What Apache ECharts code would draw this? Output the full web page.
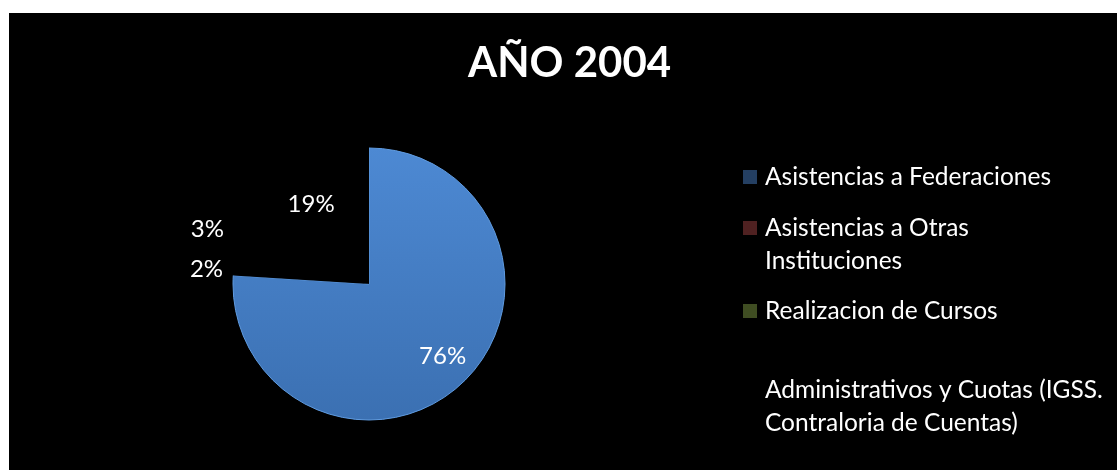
<!DOCTYPE html>
<html>
<head>
<meta charset="utf-8">
<title>AÑO 2004</title>
<script src="https://cdn.jsdelivr.net/npm/echarts@6/dist/echarts.min.js"></script>
<style>
  body { margin: 0; background: #fff; }
  #main { position: absolute; left: 9px; top: 13px; width: 1108px; height: 457px; }
</style>
</head>
<body>
<div id="main"></div>
<script>
// datos del grafico
const titulo = 'AÑO 2004'
const categorias = [
  'Asistencias a Federaciones',
  'Asistencias a Otras Instituciones',
  'Realizacion de Cursos',
  'Administrativos y Cuotas (IGSS. Contraloria de Cuentas)'
]
const porcentajes = [76, 2, 3, 19]

// estilos (no son datos)
const coloresLeyenda = ['#243f62', '#4f2121', '#3f4d22', '#000000']
const textoLeyenda = [
  'Asistencias a Federaciones',
  '\nAsistencias a Otras\nInstituciones',
  'Realizacion de Cursos',
  'Administrativos y Cuotas (IGSS.\nContraloria de Cuentas)'
]
const topLeyenda = [147.5, 165.5, 281.5, 360.5]
const posEtiqueta = ['inside', 'outside', 'outside', 'inside']
const ajusteEtiqueta = [[25, 21], [0, 2.5], [-3.5, -17], [-18, -21]]

const azul = {
  type: 'linear', x: 0, y: 0, x2: 0, y2: 1,
  colorStops: [{ offset: 0, color: '#4d89d3' }, { offset: 1, color: '#3b70b2' }]
}

const datos = categorias.map((nombre, i) => ({
  name: nombre,
  value: porcentajes[i],
  itemStyle: i === 0
    ? { color: azul, borderColor: '#5f9be0', borderWidth: 1 }
    : { color: '#000' },
  label: { position: posEtiqueta[i] }
}))

// una leyenda por elemento para poder colocarlas
const leyendas = categorias.map((nombre, i) => ({
  data: [{ name: nombre, itemStyle: { color: coloresLeyenda[i], borderWidth: 0 } }],
  orient: 'vertical',
  left: 734,
  top: topLeyenda[i],
  padding: 0,
  icon: 'rect',
  itemWidth: 14,
  itemHeight: 14,
  selectedMode: false,
  formatter: () => textoLeyenda[i],
  textStyle: {
    color: '#fff',
    fontFamily: 'Lato',
    fontSize: 24.5,
    lineHeight: 33,
    padding: [0, 0, 0, 3]
  }
}))

const option = {
  backgroundColor: '#000',
  animation: false,
  title: {
    text: titulo,
    left: 459,
    top: 29,
    padding: 0,
    textStyle: { color: '#fff', fontFamily: 'Lato', fontWeight: 'bold', fontSize: 42 }
  },
  legend: leyendas,
  series: [{
    type: 'pie',
    center: [360, 271],
    radius: 136,
    startAngle: 90,
    avoidLabelOverlap: false,
    data: datos,
    label: {
      formatter: '{d}%',
      color: '#fff',
      fontFamily: 'Lato',
      fontSize: 24,
      distanceToLabelLine: 11
    },
    labelLine: { show: false, length: 0, length2: 0 },
    labelLayout: p => ({ dx: ajusteEtiqueta[p.dataIndex][0], dy: ajusteEtiqueta[p.dataIndex][1] }),
    emphasis: { disabled: true }
  }]
}

const E = echarts.init(document.getElementById('main'))
E.setOption(option)
</script>
</body>
</html>
